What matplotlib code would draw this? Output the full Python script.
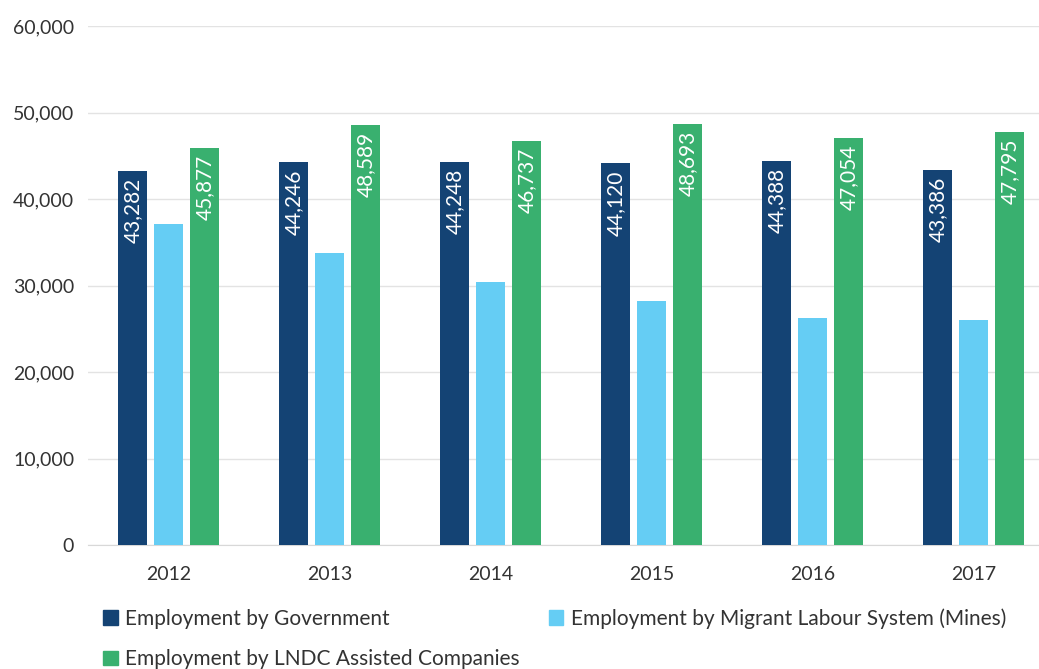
import numpy as np
import matplotlib
matplotlib.use('Agg')
import matplotlib.pyplot as plt
from matplotlib.patches import Patch

years = ['2012', '2013', '2014', '2015', '2016', '2017']
government = [43282, 44246, 44248, 44120, 44388, 43386]
migrant = [37100, 33750, 30400, 28200, 26200, 26000]   # no labels in source
lndc = [45877, 48589, 46737, 48693, 47054, 47795]

NAVY = '#144374'
SKY = '#65cdf4'
GREEN = '#39b06f'
GRID = '#e3e3e3'
TXT = '#333333'

plt.rcParams['font.family'] = ['Lato', 'DejaVu Sans']

fig = plt.figure(figsize=(10.39, 6.69), dpi=100)
# plot area runs a little past the right edge of the image, as in the source
ax = fig.add_axes([88 / 1039, 124 / 669, 966 / 1039, (545 - 26) / 669])

x = np.arange(len(years))
w = 0.18
step = 0.224
b1 = ax.bar(x - step, government, w, color=NAVY, zorder=3)
b2 = ax.bar(x, migrant, w, color=SKY, zorder=3)
b3 = ax.bar(x + step, lndc, w, color=GREEN, zorder=3)

for bars, vals in ((b1, government), (b3, lndc)):
    for r, v in zip(bars, vals):
        ax.text(r.get_x() + r.get_width() / 2, v - 800, f'{v:,}', rotation=90,
                ha='center', va='top', color='white', fontsize=15,
                fontweight='normal', zorder=4)

ax.set_xlim(-0.5, len(years) - 0.5)
ax.set_ylim(0, 60000)
ax.set_yticks(range(0, 60001, 10000))
ax.set_yticklabels([f'{v:,}' for v in range(0, 60001, 10000)])
ax.yaxis.grid(True, color=GRID, lw=1, zorder=0)
ax.set_xticks(x)
ax.set_xticklabels(years)
ax.tick_params(axis='both', length=0, labelsize=14, colors=TXT)
ax.tick_params(axis='x', pad=15)
ax.tick_params(axis='y', pad=10)
for s in ('top', 'right', 'left'):
    ax.spines[s].set_visible(False)
ax.spines['bottom'].set_color('#d8d8d8')

handles = [Patch(color=NAVY), Patch(color=GREEN), Patch(color=SKY)]
labels = ['Employment by Government', 'Employment by LNDC Assisted Companies',
          'Employment by Migrant Labour System (Mines)']
fig.legend(handles, labels, ncol=2, loc='upper left', bbox_to_anchor=(103 / 1039, 1 - 608 / 669),
           frameon=False, fontsize=15, handlelength=0.7, handleheight=0.7,
           handletextpad=0.35, columnspacing=1.4, labelspacing=1.0, labelcolor=TXT,
           borderaxespad=0, borderpad=0)

fig.savefig('out.png', dpi=100)
